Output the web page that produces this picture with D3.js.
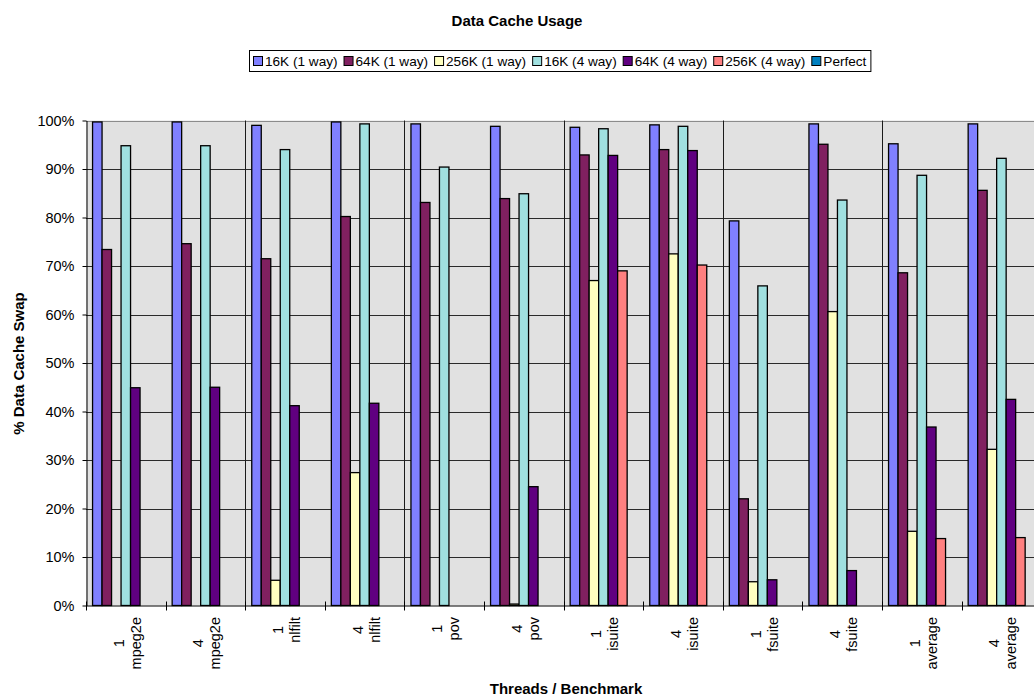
<!DOCTYPE html>
<html>
<head>
<meta charset="utf-8">
<script src="https://cdn.jsdelivr.net/npm/d3@7"></script>
<style>
  html, body { margin: 0; padding: 0; background: #fff; }
  svg { display: block; font-family: Arial, "Liberation Sans", sans-serif; }
</style>
</head>
<body>
<svg id="chart" width="1034" height="698"></svg>
<script>
// Categories: thread count + benchmark name
const threads = ["1", "4", "1", "4", "1", "4", "1", "4", "1", "4", "1", "4"];
const benchmarks = ["mpeg2e", "mpeg2e", "nlfilt", "nlfilt", "pov", "pov",
                    "isuite", "isuite", "fsuite", "fsuite", "average", "average"];

const seriesNames = ["16K (1 way)", "64K (1 way)", "256K (1 way)",
                     "16K (4 way)", "64K (4 way)", "256K (4 way)", "Perfect"];
const seriesColors = ["#8080FF", "#802060", "#FFFFC0", "#A0E0E0", "#600080", "#FF8080", "#0080C0"];

// Percent of data cache swap per configuration
const k16w1  = [99.7, 99.7, 99.0, 99.7, 99.3, 98.8, 98.6, 99.1, 79.3, 99.3, 95.2, 99.3];
const k64w1  = [73.4, 74.6, 71.5, 80.2, 83.1, 83.9, 92.9, 94.0, 22.0, 95.1, 68.6, 85.6];
const k256w1 = [0, 0, 5.2, 27.4, 0, 0.3, 67.0, 72.5, 4.9, 60.6, 15.3, 32.2];
const k16w4  = [94.8, 94.8, 94.0, 99.3, 90.4, 84.9, 98.3, 98.8, 65.9, 83.6, 88.7, 92.2];
const k64w4  = [44.9, 45.0, 41.2, 41.7, 0, 24.5, 92.8, 93.8, 5.3, 7.2, 36.8, 42.5];
const k256w4 = [0, 0, 0, 0, 0, 0, 69.0, 70.2, 0, 0, 13.8, 14.0];
const perfect = [0, 0, 0, 0, 0, 0, 0, 0, 0, 0, 0, 0];

const yTicks = [0, 10, 20, 30, 40, 50, 60, 70, 80, 90, 100];

const seriesValues = [k16w1, k64w1, k256w1, k16w4, k64w4, k256w4, perfect];

const svg = d3.select("#chart");

// Plot frame (the plot continues slightly past the right edge of the page)
const plotLeft = 86, plotTop = 120.5, plotBottom = 605.5;
const catStep = 79.6;
const plotRight = plotLeft + catStep * threads.length;

const cats = threads.map((t, i) => i);
const x = d3.scaleBand().domain(cats).range([plotLeft, plotRight]).padding(0);
const xs = d3.scaleBand().domain(d3.range(seriesNames.length))
  .range([0, x.bandwidth()]).paddingInner(0).paddingOuter(0.69);
const y = d3.scaleLinear().domain([0, 100]).range([plotBottom, plotTop]);

// Plot background
svg.append("rect")
  .attr("x", plotLeft).attr("y", plotTop)
  .attr("width", plotRight - plotLeft).attr("height", plotBottom - plotTop)
  .attr("fill", "#E1E1E1");

// Horizontal gridlines
svg.append("g")
  .selectAll("line")
  .data(yTicks.filter(d => d > 0 && d < 100))
  .join("line")
  .attr("x1", plotLeft).attr("x2", plotRight)
  .attr("y1", d => Math.round(y(d)) + 0.5).attr("y2", d => Math.round(y(d)) + 0.5)
  .attr("stroke", "#2a2a2a").attr("stroke-width", 1);

// Top border of the plot
svg.append("line")
  .attr("x1", plotLeft).attr("x2", plotRight)
  .attr("y1", Math.round(y(100)) + 0.5).attr("y2", Math.round(y(100)) + 0.5)
  .attr("stroke", "#8c8c8c").attr("stroke-width", 1);

// Vertical separators between benchmark pairs
svg.append("g")
  .selectAll("line")
  .data(cats.filter(i => i > 0 && i % 2 === 0))
  .join("line")
  .attr("x1", d => Math.round(x(d)) + 0.5).attr("x2", d => Math.round(x(d)) + 0.5)
  .attr("y1", plotTop).attr("y2", plotBottom)
  .attr("stroke", "#1a1a1a").attr("stroke-width", 1);

// Bars
const barData = [];
seriesValues.forEach((vals, s) => {
  vals.forEach((v, c) => { if (v > 0) barData.push({ s, c, v }); });
});
svg.append("g")
  .selectAll("rect")
  .data(barData)
  .join("rect")
  .attr("x", d => x(d.c) + xs(d.s))
  .attr("y", d => y(d.v))
  .attr("width", xs.bandwidth())
  .attr("height", d => y(0) - y(d.v))
  .attr("fill", d => seriesColors[d.s])
  .attr("stroke", "#000").attr("stroke-width", 1.3);

// Y axis
const yAxis = d3.axisLeft(y).tickValues(yTicks).tickFormat(d => d + "%")
  .tickSizeInner(4).tickSizeOuter(0).tickPadding(8);
const gy = svg.append("g").attr("transform", `translate(${plotLeft + 0.5},0)`).call(yAxis);
gy.select(".domain").attr("stroke", "#000");
gy.selectAll(".tick line").attr("stroke", "#000");
gy.selectAll(".tick text").attr("font-size", 14.5).attr("fill", "#000")
  .attr("font-family", "Arial, 'Liberation Sans', sans-serif");

// X axis line with crossing tick marks at category boundaries
svg.append("line")
  .attr("x1", plotLeft).attr("x2", plotRight)
  .attr("y1", plotBottom + 0.5).attr("y2", plotBottom + 0.5)
  .attr("stroke", "#000");
svg.append("g")
  .selectAll("line")
  .data(d3.range(threads.length + 1))
  .join("line")
  .attr("x1", d => Math.round(plotLeft + d * catStep) + 0.5)
  .attr("x2", d => Math.round(plotLeft + d * catStep) + 0.5)
  .attr("y1", plotBottom - 4).attr("y2", plotBottom + 5)
  .attr("stroke", "#000");

// Category labels: two rotated lines, thread count and benchmark
const labelTop = 617;
const labels = svg.append("g").attr("font-size", 14.5).attr("fill", "#000");
cats.forEach(i => {
  const cx = x(i) + x.bandwidth() / 2;
  const g = labels.append("g");
  const t1 = g.append("text").attr("text-anchor", "middle").attr("y", -2).text(threads[i]);
  const t2 = g.append("text").attr("text-anchor", "middle").attr("y", 15).text(benchmarks[i]);
  const L = Math.max(t1.node().getComputedTextLength(), t2.node().getComputedTextLength());
  g.attr("transform", `translate(${cx},${labelTop + L / 2}) rotate(-90)`);
});

// Titles
svg.append("text")
  .attr("x", 517).attr("y", 26)
  .attr("text-anchor", "middle").attr("font-size", 15).attr("font-weight", "bold")
  .text("Data Cache Usage");

svg.append("text")
  .attr("transform", "translate(24,363.5) rotate(-90)")
  .attr("text-anchor", "middle").attr("font-size", 15).attr("font-weight", "bold")
  .text("% Data Cache Swap");

svg.append("text")
  .attr("x", 566).attr("y", 694)
  .attr("text-anchor", "middle").attr("font-size", 15).attr("font-weight", "bold")
  .text("Threads / Benchmark");

// Legend
const legendY = 50, legendH = 21;
const legend = svg.append("g");
const box = legend.append("rect")
  .attr("y", legendY + 0.5).attr("height", legendH)
  .attr("fill", "#fff").attr("stroke", "#000").attr("stroke-width", 1);
let cursor = 0;
const items = legend.append("g");
seriesNames.forEach((name, s) => {
  const it = items.append("g").attr("transform", `translate(${cursor},0)`);
  it.append("rect")
    .attr("x", 0.5).attr("y", legendY + 6.5).attr("width", 9).attr("height", 9)
    .attr("fill", seriesColors[s]).attr("stroke", "#000").attr("stroke-width", 1);
  const t = it.append("text").attr("x", 12).attr("y", legendY + 16)
    .attr("font-size", 13.6).text(name);
  cursor += 12 + t.node().getComputedTextLength() + 6;
});
const contentW = cursor - 6;
const legendLeft = Math.round(559.5 - contentW / 2 - 4);
items.attr("transform", `translate(${legendLeft + 4},0)`);
box.attr("x", legendLeft + 0.5).attr("width", contentW + 8);
</script>
</body>
</html>
